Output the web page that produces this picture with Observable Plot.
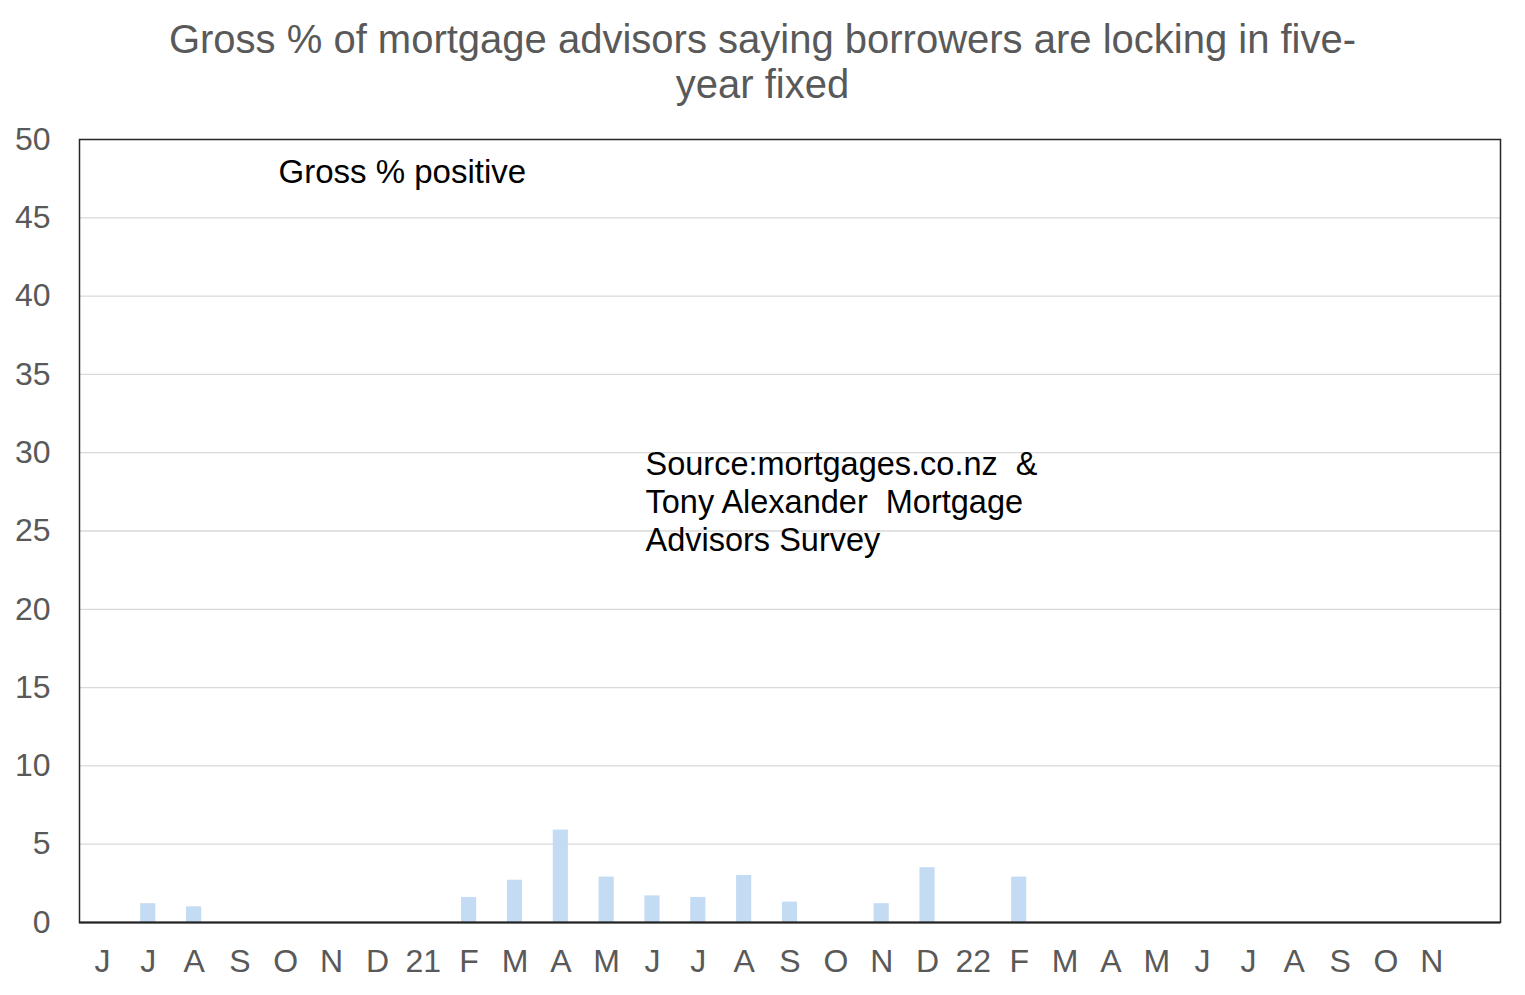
<!DOCTYPE html>
<html><head><meta charset="utf-8">
<script src="https://cdn.jsdelivr.net/npm/d3@7"></script>
<script src="https://cdn.jsdelivr.net/npm/@observablehq/plot@0.6"></script>
<style>
body{margin:0;background:#fff;font-family:"Liberation Sans",Arial,sans-serif;}
#title{height:120px;box-sizing:border-box;padding-top:17px;text-align:center;color:#595959;font-size:40px;line-height:45px;}
</style></head><body>
<div id="title">Gross % of mortgage advisors saying borrowers are locking in five-<br>year fixed</div>
<div id="chart"></div>
<script>
const monthLabels = ["J","J","A","S","O","N","D","21","F","M","A","M","J","J","A","S","O","N","D","22","F","M","A","M","J","J","A","S","O","N",""];
const values = [0,1.2,1.0,0,0,0,0,0,1.6,2.7,5.9,2.9,1.7,1.6,3.0,1.3,0,1.2,3.5,0,2.9,0,0,0,0,0,0,0,0,0,0];
const yTicks = [0,5,10,15,20,25,30,35,40,45,50];
const data = values.map((v,i)=>({i, v}));
const idx = data.map(d=>d.i);

const chart = Plot.plot({
  width: 1525, height: 875,
  marginTop: 19, marginBottom: 73, marginLeft: 79, marginRight: 25,
  style: {fontFamily: '"Liberation Sans", Arial, sans-serif', background: "#fff"},
  x: {type: "band", domain: idx, paddingInner: 0.67, paddingOuter: 0.335, align: 0.5, round: false, label: null},
  y: {domain: [0,50], ticks: yTicks, label: null},
  marks: [
    Plot.gridY(yTicks.filter(t=>t>0 && t<50), {stroke: "#d9d9d9", strokeOpacity: 1, strokeWidth: 1.3}),
    Plot.barY(data, {x: "i", y: "v", fill: "#c3dbf3"}),
    Plot.frame({stroke: "#262626", strokeWidth: 1.5}),
    Plot.ruleY([0], {stroke: "#222", strokeWidth: 2}),
    Plot.axisY(yTicks, {tickSize: 0, tickPadding: 29, fontSize: 32, fill: "#595959", label: null}),
    Plot.axisX(idx, {tickSize: 0, tickPadding: 27, fontSize: 32, fill: "#595959", label: null, tickFormat: i => monthLabels[i]}),
    Plot.text(["Gross % positive"], {frameAnchor: "top-left", dx: 199, dy: 20, fontSize: 33, fill: "#000", textAnchor: "start"}),
    Plot.text(["Source:mortgages.co.nz  &\nTony Alexander  Mortgage\nAdvisors Survey"], {frameAnchor: "top-left", dx: 566, dy: 308, fontSize: 32.5, lineHeight: 1.17, fill: "#000", textAnchor: "start"})
  ]
});
document.getElementById("chart").appendChild(chart);
</script>
</body></html>
